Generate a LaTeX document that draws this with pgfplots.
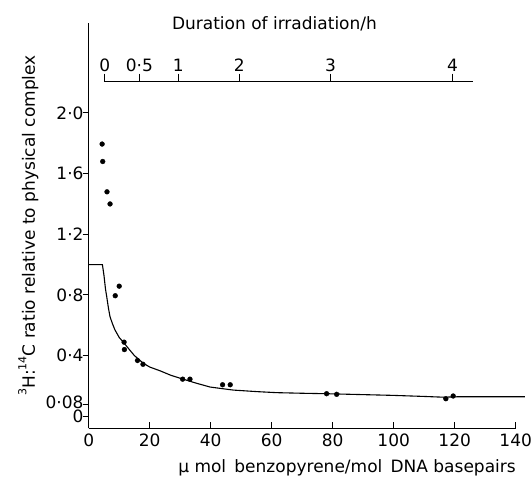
\documentclass[border=0pt]{standalone}
\usepackage{fontspec}
\setmainfont{DejaVu Sans}
\usepackage{pgfplots}
\pgfplotsset{compat=1.18}
\newcommand{\sups}[1]{\raisebox{0.5em}{\fontsize{11}{12}\selectfont #1}}
\begin{document}
\fontsize{17}{20}\selectfont
\begin{tikzpicture}[font=\fontsize{17}{20}\selectfont]
\begin{axis}[
  scale only axis, width=427pt, height=405.6pt,
  xmin=0, xmax=140, ymin=-0.079, ymax=2.595,
  axis lines=left,
  axis line style={-, line width=1.2pt},
  clip=false,
  /pgf/number format/assume math mode=true,
  xtick={0,20,...,140},
  ytick={0,0.4,0.8,1.2,1.6,2.0},
  yticklabels={0,0·4,0·8,1·2,1·6,2·0},
  extra y ticks={0.08},
  extra y tick labels={0·08},
  extra y tick style={yticklabel style={yshift=2pt}},
  yticklabel style={inner ysep=0pt, inner xsep=5pt},
  tick align=inside,
  major tick length=6pt,
  tick style={line width=1pt, black},
  ytick style={xshift=-6pt},
  every axis x label/.style={at={(axis description cs:0.605,-0.110)}, anchor=base},
  every axis y label/.style={at={(axis description cs:-0.126,0.5)}, rotate=90, anchor=base},
  xlabel={μ mol\, benzopyrene/mol\, DNA basepairs},
  ylabel={\sups{3}H:\sups{14}C ratio relative to physical complex},
]
\coordinate (O) at (axis cs:0,-0.079);
\coordinate (O2) at (axis cs:5.0,-0.079);
\addplot[black, line width=1.1pt] coordinates {
(0,1.0) (4.5,1.0) (5.0,0.93) (5.5,0.84) (5.9,0.79) (6.5,0.71) (7.0,0.656)
(7.8,0.61) (8.6,0.57) (10,0.52) (11.3,0.49) (13.0,0.448) (15,0.40)
(17.9,0.35) (20,0.325) (23.4,0.30) (27,0.27) (30.8,0.246) (35,0.22)
(39.8,0.193) (47.4,0.173) (55,0.163) (61.6,0.156) (70,0.152) (78,0.149)
(90,0.143) (99.9,0.138) (110,0.131) (116.3,0.126) (121.2,0.129) (130,0.129) (143,0.129)
};
\addplot[only marks, mark=*, mark size=2.4pt, black] coordinates {
(4.4,1.795) (4.6,1.68) (6.0,1.48) (7.0,1.40) (8.7,0.795) (10.0,0.858)
(11.6,0.489) (11.7,0.44) (16.0,0.368) (17.8,0.343) (30.8,0.245) (33.2,0.245)
(43.9,0.208) (46.4,0.208) (78.0,0.149) (81.3,0.145) (117.1,0.116) (119.5,0.134)
};
\node[anchor=base] at (axis description cs:0.435,0.982) {Duration of irradiation/h};
\end{axis}
\begin{axis}[
  at={(O2)}, anchor=south west,
  scale only axis, width=368.7pt, height=346.6pt,
  xmin=5.0, xmax=125.9, ymin=0, ymax=1,
  axis x line*=top, axis y line=none,
  axis line style={-, line width=1.2pt},
  xtick={5.3,16.6,29.4,49.4,79.3,119.3},
  xticklabels={0,0·5,1,2,3,4},
  tick align=outside, major tick length=8pt,
  tick style={line width=1pt, black},
  xticklabel style={inner sep=2pt},
  ytick=\empty,
]
\addplot[draw=none] coordinates {(5,0.5)};
\end{axis}
\pgfresetboundingbox
\path (O) ++(-88.7pt,-59.7pt) rectangle ++(531pt,488pt);
\end{tikzpicture}
\end{document}
